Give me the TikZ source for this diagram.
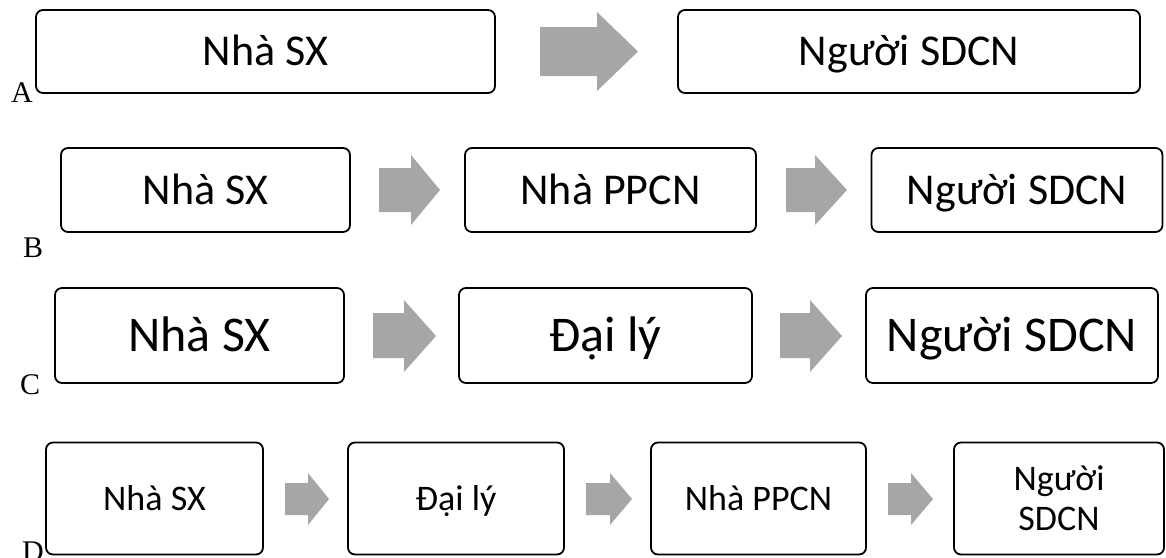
\documentclass[tikz,border=0pt]{standalone}
\usepackage{fontspec}
\setmainfont{Carlito}
\newfontfamily\lblfont{Liberation Serif}
\definecolor{arrowgray}{RGB}{166,166,166}
\tikzset{
  box/.style={draw=black, line width=1.8pt, rounded corners=7pt, inner sep=0pt, align=center},
  arr/.style={fill=arrowgray, draw=none},
  fA/.style={font=\fontsize{44}{53}\selectfont, text height=28.3pt, text depth=0pt},
  fC/.style={font=\fontsize{50}{60}\selectfont, text height=32.2pt, text depth=0pt},
  fD/.style={font=\fontsize{36}{44}\selectfont, text height=23.2pt, text depth=0pt},
  fDtwo/.style={font=\fontsize{36}{40}\selectfont},
  lbl/.style={font=\lblfont\fontsize{30}{36}\selectfont, anchor=base west, inner sep=0pt}
}
\begin{document}
\begin{tikzpicture}[x=1pt,y=-1pt]
\useasboundingbox (0,0) rectangle (1166,557);
% Row A
\node[box, fA, minimum width=459pt, minimum height=83pt] (a1) at (265.5,51.5) {Nhà SX};
\node[box, fA, minimum width=462pt, minimum height=83pt] (a2) at (909,51.5) {Người SDCN};
\fill[arr] (540,27) -- (597,27) -- (597,12) -- (638,51.5) -- (597,91) -- (597,76) -- (540,76) -- cycle;
\node[lbl] (la) at (11,102) {A};
% Row B
\node[box, fA, minimum width=289pt, minimum height=84pt] (b1) at (205.5,190) {Nhà SX};
\node[box, fA, minimum width=291pt, minimum height=84pt] (b2) at (610.5,190) {Nhà PPCN};
\node[box, fA, minimum width=291pt, minimum height=84pt] (b3) at (1017,190) {Người SDCN};
\fill[arr] (379,168) -- (411,168) -- (411,155) -- (440,190) -- (411,225) -- (411,212) -- (379,212) -- cycle;
\fill[arr] (786,168) -- (815,168) -- (815,155) -- (847,190) -- (815,225) -- (815,212) -- (786,212) -- cycle;
\node[lbl] (lb) at (23,257) {B};
% Row C
\node[box, fC, minimum width=289pt, minimum height=95pt] (c1) at (199.5,335.5) {Nhà SX};
\node[box, fC, minimum width=293pt, minimum height=95pt] (c2) at (605.5,335.5) {Đại lý};
\node[box, fC, minimum width=292pt, minimum height=95pt] (c3) at (1012,335.5) {Người SDCN};
\fill[arr] (373,313) -- (404,313) -- (404,300) -- (436,336) -- (404,372) -- (404,358) -- (373,358) -- cycle;
\fill[arr] (780,313) -- (810,313) -- (810,300) -- (842,336) -- (810,372) -- (810,358) -- (780,358) -- cycle;
\node[lbl] (lc) at (20,394) {C};
% Row D
\node[box, fD, minimum width=217pt, minimum height=112pt] (d1) at (154.5,498.5) {Nhà SX};
\node[box, fD, minimum width=216pt, minimum height=112pt] (d2) at (456,498.5) {Đại lý};
\node[box, fD, minimum width=215pt, minimum height=112pt] (d3) at (758.5,498.5) {Nhà PPCN};
\node[box, fDtwo, minimum width=210pt, minimum height=112pt] (d4) at (1059,498.5) {Người\\SDCN};
\fill[arr] (285,483) -- (308,483) -- (308,473) -- (329,499) -- (308,525) -- (308,515) -- (285,515) -- cycle;
\fill[arr] (586,483) -- (610,483) -- (610,473) -- (632,499) -- (610,525) -- (610,515) -- (586,515) -- cycle;
\fill[arr] (888,483) -- (911,483) -- (911,473) -- (933,499) -- (911,525) -- (911,515) -- (888,515) -- cycle;
\node[lbl] (ld) at (22,561) {D};
\end{tikzpicture}
\end{document}
